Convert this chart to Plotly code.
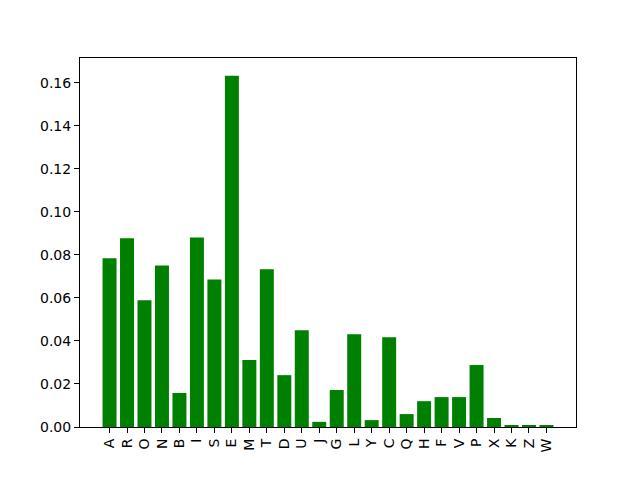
import plotly.graph_objects as go

letters = ["A", "R", "O", "N", "B", "I", "S", "E", "M", "T", "D", "U", "J",
           "G", "L", "Y", "C", "Q", "H", "F", "V", "P", "X", "K", "Z", "W"]
freqs = [0.0784, 0.0877, 0.0589, 0.0751, 0.0158, 0.0881, 0.0686, 0.1633,
         0.0311, 0.0733, 0.0241, 0.0450, 0.0024, 0.0172, 0.0431, 0.0032,
         0.0417, 0.0060, 0.0120, 0.0139, 0.0139, 0.0288, 0.0042, 0.0009,
         0.0009, 0.0005]

fig = go.Figure(
    go.Bar(
        x=list(range(len(letters))),
        y=freqs,
        width=0.8,
        marker={"color": "#008000", "line": {"width": 0}},
    )
)

axis_common = {
    "showline": True,
    "linecolor": "black",
    "linewidth": 1,
    "mirror": True,
    "ticks": "outside",
    "ticklen": 5,
    "tickcolor": "black",
    "showgrid": False,
    "zeroline": False,
}

# page body has an 8px margin, so the margins are shifted by that amount
fig.update_layout(
    width=640,
    height=480,
    margin={"l": 72, "r": 72, "t": 50, "b": 61},
    plot_bgcolor="white",
    paper_bgcolor="white",
    font={"family": "DejaVu Sans", "size": 14, "color": "black"},
    showlegend=False,
    xaxis={
        **axis_common,
        "range": [-1.69, 26.69],
        "tickmode": "array",
        "tickvals": list(range(len(letters))),
        "ticktext": letters,
        "tickangle": -90,
    },
    yaxis={
        **axis_common,
        "range": [0, 0.1715],
        "dtick": 0.02,
        "tickformat": ".2f",
    },
)

fig.write_html("out.html")
